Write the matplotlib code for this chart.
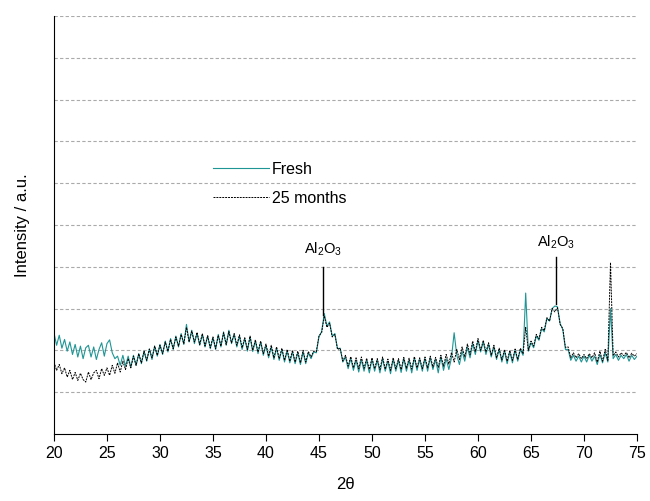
import numpy as np
import matplotlib.pyplot as plt

plt.rcParams['font.family'] = ['Liberation Sans', 'DejaVu Sans']
plt.rcParams['mathtext.default'] = 'regular'

# 2-theta grid, 0.25 deg steps from 20 to 75
two_theta = np.arange(20, 75.01, 0.25)

fresh = [
    2.42, 2.12, 2.36, 2.05, 2.26, 1.98, 2.20, 1.90, 2.14, 1.84, 2.10, 1.80, 2.06, 2.12, 1.84, 2.08, 1.78, 2.02, 2.18, 1.86,
    2.16, 2.25, 1.94, 1.80, 1.86, 1.64, 1.88, 1.62, 1.86, 1.60, 1.88, 1.64, 1.92, 1.68, 1.98, 1.74, 2.03, 1.78, 2.10, 1.86,
    2.14, 1.90, 2.22, 1.96, 2.28, 2.02, 2.34, 2.08, 2.40, 2.14, 2.62, 2.20, 2.48, 2.16, 2.40, 2.12, 2.38, 2.08, 2.34, 2.04,
    2.30, 2.02, 2.38, 2.08, 2.44, 2.12, 2.48, 2.16, 2.38, 2.08, 2.34, 2.02, 2.28, 1.98, 2.32, 1.97, 2.22, 1.92, 2.20, 1.88,
    2.12, 1.82, 2.08, 1.78, 2.05, 1.76, 2.02, 1.72, 1.98, 1.70, 1.96, 1.68, 1.94, 1.66, 1.96, 1.68, 1.94, 1.80, 1.96, 1.94,
    2.32, 2.45, 2.88, 2.58, 2.68, 2.34, 2.40, 2.04, 2.05, 1.72, 1.84, 1.56, 1.80, 1.52, 1.76, 1.48, 1.78, 1.50, 1.76, 1.46,
    1.78, 1.50, 1.76, 1.46, 1.80, 1.50, 1.74, 1.44, 1.78, 1.50, 1.76, 1.47, 1.80, 1.50, 1.76, 1.46, 1.82, 1.52, 1.78, 1.50,
    1.80, 1.50, 1.82, 1.54, 1.78, 1.46, 1.84, 1.52, 1.80, 1.54, 1.82, 2.42, 1.88, 1.66, 1.98, 1.74, 2.08, 1.82, 2.16, 1.90,
    2.24, 1.96, 2.20, 1.90, 2.14, 1.84, 2.08, 1.78, 2.02, 1.72, 1.98, 1.68, 1.96, 1.70, 2.00, 1.74, 2.02, 1.88, 3.37, 1.98,
    2.18, 2.06, 2.34, 2.24, 2.52, 2.44, 2.76, 2.70, 3.00, 3.06, 3.04, 2.64, 2.50, 2.02, 2.02, 1.76, 1.88, 1.74, 1.86, 1.72,
    1.86, 1.72, 1.88, 1.74, 1.86, 1.66, 1.90, 1.70, 1.94, 1.72, 3.00, 1.80, 1.90, 1.76, 1.88, 1.80, 1.90, 1.74, 1.88, 1.78,
    1.86,
]

aged = [
    1.72, 1.52, 1.66, 1.44, 1.58, 1.36, 1.52, 1.30, 1.47, 1.28, 1.45, 1.30, 1.24, 1.48, 1.30, 1.46, 1.52, 1.32, 1.56, 1.40,
    1.58, 1.40, 1.64, 1.45, 1.70, 1.48, 1.74, 1.54, 1.80, 1.58, 1.86, 1.64, 1.92, 1.70, 1.98, 1.76, 2.03, 1.82, 2.10, 1.88,
    2.12, 1.92, 2.20, 1.98, 2.26, 2.04, 2.32, 2.10, 2.38, 2.16, 2.55, 2.20, 2.46, 2.20, 2.43, 2.14, 2.40, 2.10, 2.35, 2.06,
    2.32, 2.04, 2.36, 2.10, 2.42, 2.14, 2.45, 2.18, 2.40, 2.12, 2.37, 2.06, 2.30, 2.02, 2.34, 2.00, 2.25, 1.96, 2.22, 1.92,
    2.15, 1.86, 2.12, 1.82, 2.08, 1.80, 2.05, 1.76, 2.02, 1.74, 2.00, 1.72, 1.98, 1.70, 2.00, 1.72, 1.97, 1.84, 1.98, 1.97,
    2.35, 2.42, 2.82, 2.55, 2.65, 2.32, 2.38, 2.02, 2.05, 1.74, 1.88, 1.62, 1.85, 1.58, 1.82, 1.56, 1.84, 1.57, 1.81, 1.54,
    1.82, 1.56, 1.80, 1.54, 1.84, 1.55, 1.79, 1.52, 1.82, 1.56, 1.80, 1.54, 1.83, 1.57, 1.81, 1.55, 1.85, 1.58, 1.82, 1.56,
    1.84, 1.58, 1.86, 1.60, 1.83, 1.59, 1.88, 1.62, 1.90, 1.67, 1.95, 1.72, 2.02, 1.78, 2.08, 1.84, 2.15, 1.90, 2.22, 1.97,
    2.28, 2.00, 2.24, 1.96, 2.18, 1.88, 2.12, 1.82, 2.05, 1.77, 2.02, 1.74, 2.00, 1.76, 2.03, 1.78, 2.05, 1.92, 2.55, 2.00,
    2.22, 2.10, 2.38, 2.27, 2.55, 2.47, 2.78, 2.70, 3.00, 2.92, 3.02, 2.62, 2.52, 2.07, 2.08, 1.82, 1.94, 1.82, 1.92, 1.80,
    1.90, 1.80, 1.92, 1.82, 1.94, 1.72, 1.98, 1.74, 2.02, 1.76, 4.10, 1.87, 1.96, 1.84, 1.94, 1.87, 1.95, 1.82, 1.93, 1.86,
    1.92,
]

# peak labels: position, line bottom, line top, text y
peak_pos = [45.4, 67.35]
peak_bottom = [2.85, 3.1]
peak_top = [4.0, 4.23]
peak_text_y = [4.22, 4.38]

fig = plt.figure(figsize=(6.5, 5.01), dpi=100)
ax = fig.add_axes([0.083, 0.134, 0.897, 0.834])

ax.plot(two_theta, fresh, color='#1f9595', lw=0.8, label='Fresh')
ax.plot(two_theta, aged, color='black', lw=0.7, ls=(0, (2, 1)), label='25 months')

for x, y0, y1, yt in zip(peak_pos, peak_bottom, peak_top, peak_text_y):
    ax.plot([x, x], [y0, y1], color='black', lw=1)
    ax.text(x, yt, 'Al$_2$O$_3$', ha='center', va='bottom', fontsize=10.5)

ax.set_xlim(20, 75)
ax.set_ylim(0, 10)
ax.set_xticks(np.arange(20, 76, 5))
ax.set_yticks(np.arange(1, 11))
ax.set_yticklabels([])
ax.tick_params(axis='y', length=0)
ax.tick_params(axis='x', direction='out', labelsize=11.5, length=5)
ax.grid(axis='y', color='#aaaaaa', ls=(0, (3, 2)), lw=0.8)
ax.spines['top'].set_visible(False)
ax.spines['right'].set_visible(False)

ax.set_xlabel('2θ', fontsize=12, labelpad=12)
ax.set_ylabel('Intensity / a.u.', fontsize=12, labelpad=14)

ax.legend(loc='upper left', bbox_to_anchor=(0.248, 0.686), frameon=False,
          fontsize=11.5, handlelength=3.5, handletextpad=0.2, labelspacing=0.9)

plt.savefig('out.png')
